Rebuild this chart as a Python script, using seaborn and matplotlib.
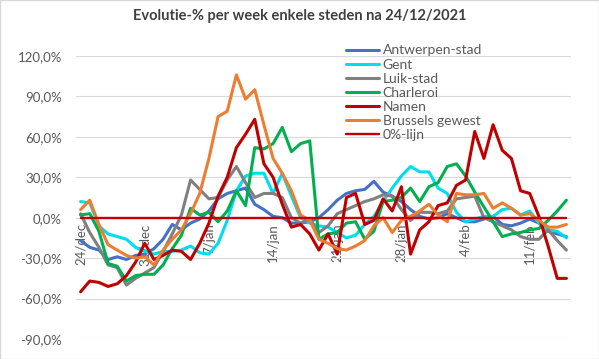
import matplotlib
matplotlib.use('Agg')
import matplotlib.pyplot as plt
import seaborn as sb
from matplotlib.ticker import FuncFormatter, FixedLocator
from matplotlib.patches import Rectangle

# daily values (%) from 24/dec up to 15/feb
days = list(range(54))
tick_days = [0, 7, 14, 21, 28, 35, 42, 49]
tick_labels = ['24/dec', '31/dec', '7/jan', '14/jan', '21/jan', '28/jan', '4/feb', '11/feb']

antwerpen = [-17, -22, -24, -31, -29, -31, -28, -27, -23, -16, -5, -9, -4, -1, 5, 14, 18, 20, 22, 10,
             6, 1, 0, -4, -4, -3, 0, 6, 13, 18, 20, 21, 27, 19, 16, 12, 6, 1, -1, 0,
             3, 0, -3, -3, -1, 1, -5, -6, -4, -1, -4, -10, -12, -14]
gent = [12, 11, -6, -12, -14, -16, -22, -25, -27, -25, -25, -24, -21, -26, -27, -19, -2, 20, 31, 33,
        33, 18, 33, 16, 0, -4, -6, -7, -11, -15, -13, -5, 1, 12, 22, 31, 38, 34, 34, 22,
        18, 4, -3, -1, 1, 1, 6, 7, 2, 5, -4, -9, -10, -15]
luik = [3, -11, -22, -35, -37, -50, -45, -41, -37, -25, -12, 2, 28, 21, 14, 15, 28, 38, 26, 15,
        18, 18, 15, 0, -4, -1, -11, -6, 3, 6, 9, 12, 14, 17, 16, 6, -2, 4, 4, 3,
        5, 14, 15, 16, 0, -3, -6, -9, -14, -16, -16, -9, -17, -24]
charleroi = [2, 3, -10, -34, -36, -47, -43, -42, -42, -35, -23, -13, 7, 2, 4, -3, 5, 20, 9, 52,
             51, 55, 67, 49, 55, 57, -16, -12, -11, -4, -3, -16, -10, 12, 13, 15, 22, 12, 23, 26,
             38, 40, 31, 19, 8, -3, -14, -12, -11, -9, -8, -2, 5, 13]
namen = [-55, -47, -48, -51, -49, -43, -33, -19, -31, -28, -24, -25, -31, -19, -4, 16, 30, 52, 62, 73,
         40, 30, 10, -7, -5, -12, -24, -12, -27, 15, 18, -5, -2, 14, 5, 23, -27, -9, -3, 9,
         11, 24, 28, 64, 44, 69, 50, 44, 20, 18, 1, -21, -45, -45]
brussel = [6, 13, -5, -20, -24, -28, -30, -29, -35, -24, -16, -9, 3, 18, 44, 75, 79, 106, 88, 95,
           69, 44, 33, 20, 2, -2, -16, -19, -23, -24, -21, -17, -6, 0, -11, -2, 1, 5, 10, 2,
           -3, 18, 17, 17, 18, 7, 11, 7, 2, 3, -2, -7, -7, -5]
nul_lijn = [0] * 54

series = [('Antwerpen-stad', antwerpen, '#4472C4'),
          ('Gent', gent, '#00DDF0'),
          ('Luik-stad', luik, '#808080'),
          ('Charleroi', charleroi, '#00B050'),
          ('Namen', namen, '#C00000'),
          ('Brussels gewest', brussel, '#ED7D31')]

sb.set_style('white')
plt.rcParams['font.family'] = ['Lato', 'DejaVu Sans']

fig = plt.figure(figsize=(5.99, 3.59), dpi=100)
ax = fig.add_axes([76 / 599, 1 - 339 / 359, (571 - 76) / 599, (339 - 56) / 359])

for name, vals, col in series:
    sb.lineplot(x=days, y=vals, color=col, linewidth=2.2, label=name, ax=ax)
sb.lineplot(x=days, y=nul_lijn, color='#C00000', linewidth=1.7, label='0%-lijn', ax=ax)

ax.set_xlim(-0.5, 53.5)
ax.set_ylim(-90, 120)
ax.yaxis.set_major_locator(FixedLocator(list(range(-90, 121, 30))))
ax.yaxis.set_major_formatter(FuncFormatter(lambda v, p: f'{v:.1f}%'.replace('.', ',')))
ax.grid(axis='y', color='#D9D9D9', linewidth=0.8)
ax.grid(axis='x', visible=False)
ax.set_axisbelow(True)
for s in ax.spines.values():
    s.set_visible(False)
ax.spines['bottom'].set_position(('data', 0))

ax.set_xticks(tick_days)
ax.set_xticklabels(tick_labels, rotation=90)
ax.set_xticks([d - 0.5 for d in tick_days], minor=True)
ax.tick_params(axis='x', which='major', length=0, pad=4, labelsize=9.5, colors='#595959')
ax.tick_params(axis='x', which='minor', length=4, color='#BFBFBF', width=0.8, direction='out')
ax.tick_params(axis='y', length=0, pad=10, labelsize=9.5, colors='#595959')
ax.set_xlabel('')
ax.set_ylabel('')

h, l = ax.get_legend_handles_labels()
ax.legend(h, l, loc='upper left', bbox_to_anchor=(346 / 599, 1 - 44.5 / 359), bbox_transform=fig.transFigure,
          frameon=False, fontsize=10, labelcolor='#595959', handlelength=2.4, handletextpad=0.25,
          labelspacing=0.15, borderpad=0, borderaxespad=0)

fig.text(0.5, 1 - 16 / 359, 'Evolutie-% per week enkele steden na 24/12/2021', ha='center', va='center',
         fontsize=10.5, fontweight='bold', color='#404040')
fig.patches.append(Rectangle((0, 0), 1, 1, transform=fig.transFigure, fill=False,
                             edgecolor='#D9D9D9', linewidth=1))

fig.savefig('out.png', dpi=100)
